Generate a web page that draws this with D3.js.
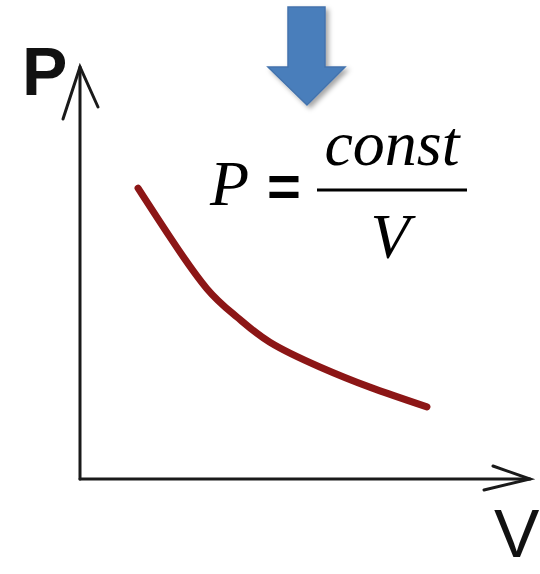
<!DOCTYPE html>
<html>
<head>
<meta charset="utf-8">
<script src="https://cdn.jsdelivr.net/npm/d3@7"></script>
<style>
  html, body { margin: 0; padding: 0; background: #fff; }
  svg { display: block; }
</style>
</head>
<body>
<div id="chart"></div>
<script>
// Curve (arbitrary units, axes run 0..10)
const volume = [1.29, 2.0, 2.82, 3.49, 4.22, 5.33, 6.44, 7.71];
const pressure = [7.06, 5.87, 4.62, 3.93, 3.32, 2.72, 2.23, 1.75];
const axisLabels = ["V", "P"];
const formulaParts = ["P", "=", "const", "V"];

const W = 540, H = 574;
const margin = {top: 67, right: 10, bottom: 95, left: 80};

const svg = d3.select("#chart")
    .append("svg")
    .attr("width", W)
    .attr("height", H);

const x = d3.scaleLinear().domain([0, 10]).range([margin.left, W - margin.right]);
const y = d3.scaleLinear().domain([0, 10]).range([H - margin.bottom, margin.top]);

const axisColor = "#1a1a1a";

// Axes with open arrowheads
const axes = svg.append("g")
    .attr("stroke", axisColor)
    .attr("stroke-width", 3)
    .attr("fill", "none")
    .attr("stroke-linecap", "round");

axes.append("line")
    .attr("x1", x(0)).attr("y1", y(0))
    .attr("x2", x(10)).attr("y2", y(0));
axes.append("line")
    .attr("x1", x(0)).attr("y1", y(0))
    .attr("x2", x(0)).attr("y2", y(10));

// x arrowhead
axes.append("path")
    .attr("d", `M${x(10) - 37},${y(0) - 13} L${x(10)},${y(0)} L${x(10) - 46},${y(0) + 11}`);
// y arrowhead
axes.append("path")
    .attr("d", `M${x(0) - 17},${y(10) + 52} L${x(0)},${y(10)} L${x(0) + 18},${y(10) + 40}`);

// Axis labels
svg.append("text")
    .attr("x", 22).attr("y", 95)
    .attr("font-family", "Liberation Sans, Arial, sans-serif")
    .attr("font-weight", "bold")
    .attr("font-size", 68)
    .attr("fill", "#111")
    .text(axisLabels[1]);

svg.append("text")
    .attr("x", 494).attr("y", 557)
    .attr("font-family", "Liberation Sans, Arial, sans-serif")
    .attr("font-size", 68)
    .attr("fill", "#111")
    .text(axisLabels[0]);

// Isotherm curve
const pts = volume.map((v, i) => [v, pressure[i]]);
const line = d3.line()
    .x(d => x(d[0]))
    .y(d => y(d[1]))
    .curve(d3.curveNatural);

svg.append("path")
    .datum(pts)
    .attr("d", line)
    .attr("fill", "none")
    .attr("stroke", "#8c1616")
    .attr("stroke-width", 7)
    .attr("stroke-linecap", "round");

// Blue down arrow with soft shadow
const defs = svg.append("defs");
const f = defs.append("filter").attr("id", "shadow")
    .attr("x", "-30%").attr("y", "-30%").attr("width", "160%").attr("height", "160%");
f.append("feDropShadow")
    .attr("dx", 3).attr("dy", 3).attr("stdDeviation", 2.5)
    .attr("flood-color", "#000").attr("flood-opacity", 0.35);

svg.append("path")
    .attr("d", "M288,7 L325,7 L325,67 L345,67 L307,105 L268,67 L288,67 Z")
    .attr("fill", "#4a7ebb")
    .attr("stroke", "#4373ad")
    .attr("stroke-width", 1.5)
    .attr("filter", "url(#shadow)");

// Formula P = const / V
const serif = "Liberation Serif, Times New Roman, serif";
svg.append("text")
    .attr("x", 210).attr("y", 205)
    .attr("font-family", serif)
    .attr("font-style", "italic")
    .attr("font-size", 64)
    .attr("fill", "#000")
    .text(formulaParts[0]);

svg.append("text")
    .attr("x", 284).attr("y", 206)
    .attr("text-anchor", "middle")
    .attr("font-family", "Liberation Sans, Arial, sans-serif")
    .attr("font-weight", "bold")
    .attr("font-size", 58)
    .attr("fill", "#000")
    .text(formulaParts[1]);

svg.append("line")
    .attr("x1", 317).attr("x2", 467)
    .attr("y1", 190).attr("y2", 190)
    .attr("stroke", "#000")
    .attr("stroke-width", 3);

svg.append("text")
    .attr("x", 392).attr("y", 165)
    .attr("text-anchor", "middle")
    .attr("font-family", serif)
    .attr("font-style", "italic")
    .attr("font-size", 64)
    .attr("fill", "#000")
    .text(formulaParts[2]);

svg.append("text")
    .attr("x", 390).attr("y", 258)
    .attr("text-anchor", "middle")
    .attr("font-family", serif)
    .attr("font-style", "italic")
    .attr("font-size", 64)
    .attr("fill", "#000")
    .text(formulaParts[3]);
</script>
</body>
</html>
